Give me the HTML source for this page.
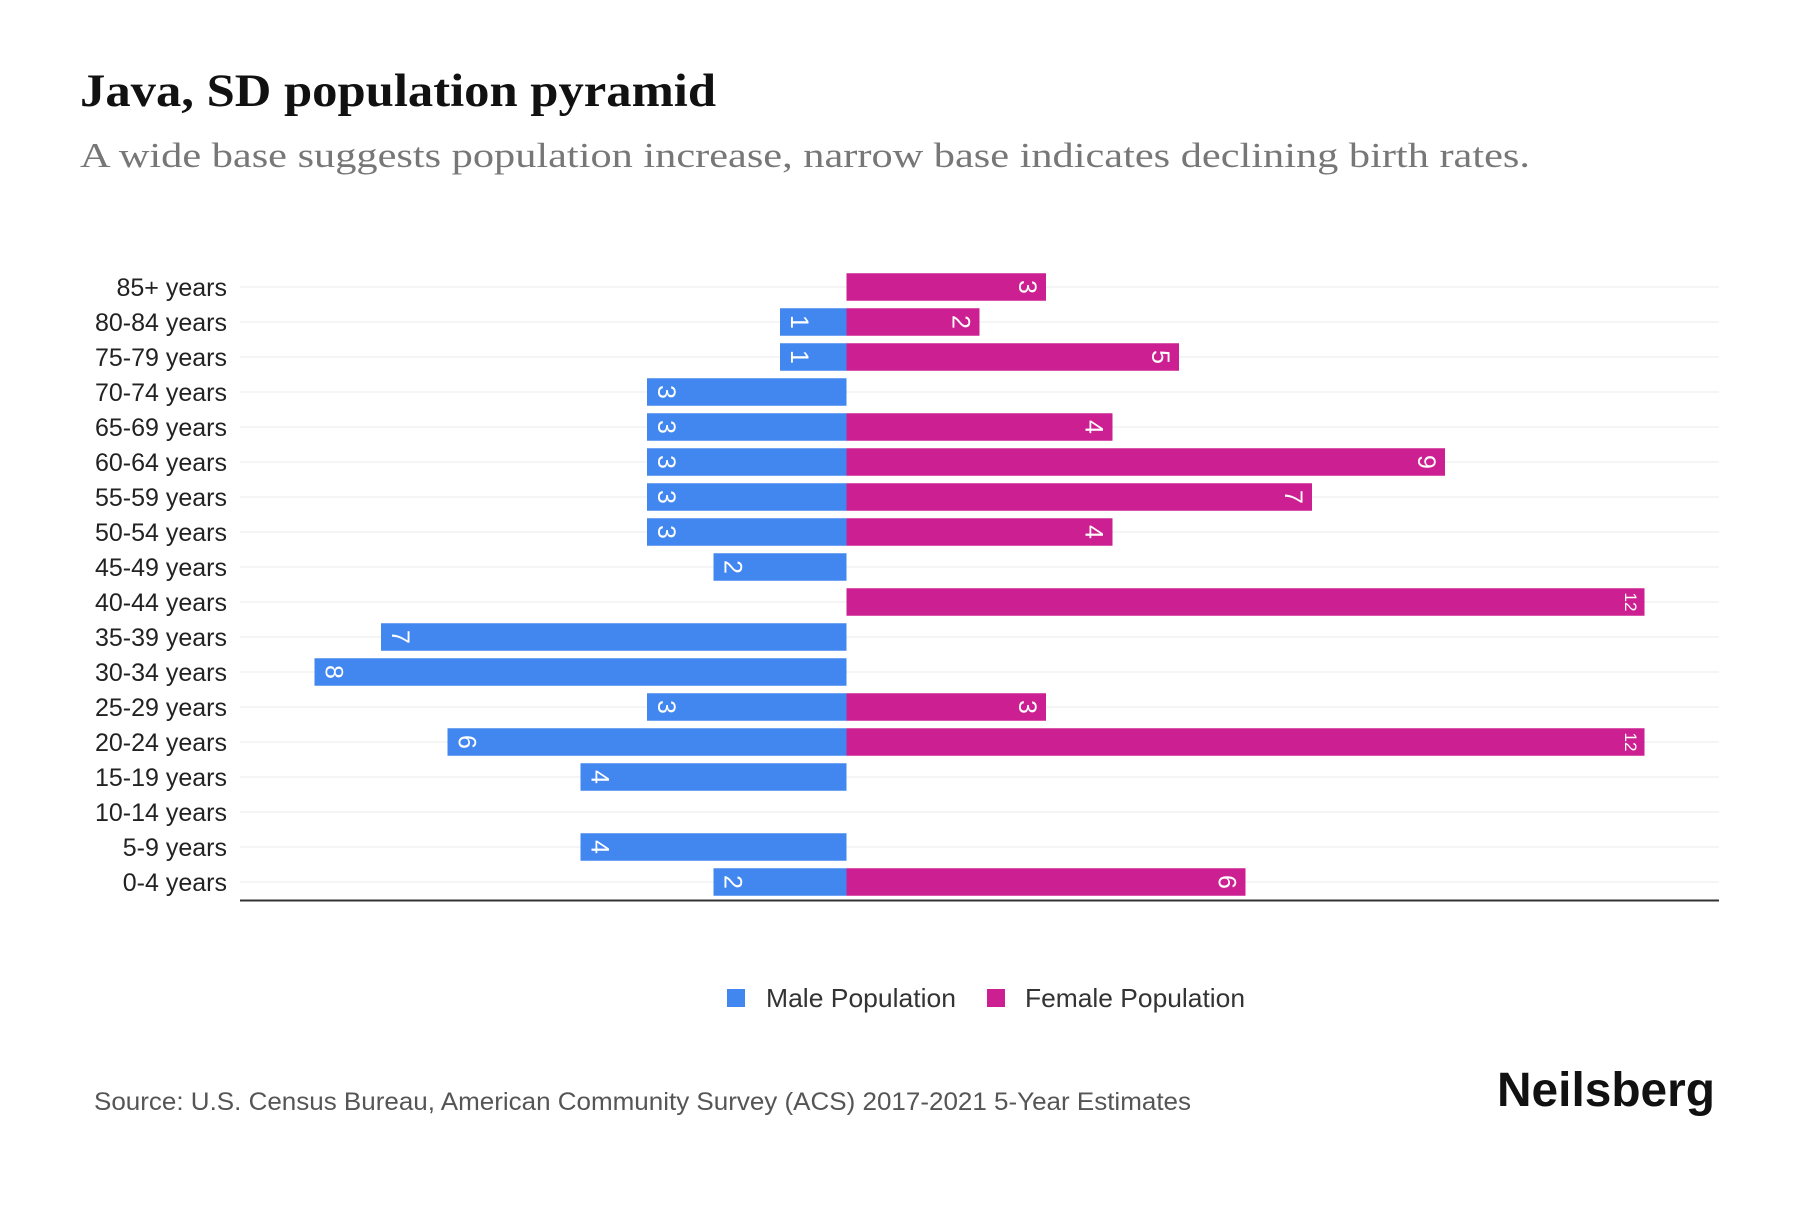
<!DOCTYPE html>
<html><head><meta charset="utf-8"><style>
body{margin:0;background:#fff;width:1800px;height:1200px;overflow:hidden;font-family:"Liberation Sans",sans-serif}
</style></head><body>
<svg id="chart" width="1800" height="1200">
<text x="80" y="106" font-family="Liberation Serif, serif" font-weight="bold" font-size="47" fill="#111" textLength="636" lengthAdjust="spacingAndGlyphs">Java, SD population pyramid</text>
<text x="80" y="167" font-family="Liberation Serif, serif" font-size="35" fill="#777" textLength="1450" lengthAdjust="spacingAndGlyphs">A wide base suggests population increase, narrow base indicates declining birth rates.</text>
<g id="grid"></g><g id="bars"></g><g id="labels"></g>
<line x1="240" x2="1719" y1="900.5" y2="900.5" stroke="#333" stroke-width="2"/>
<rect x="727" y="989" width="18" height="18" fill="#4287f0"/>
<text x="766" y="1007" font-size="26" fill="#333" textLength="190" lengthAdjust="spacingAndGlyphs">Male Population</text>
<rect x="987" y="989" width="18" height="18" fill="#cc1f91"/>
<text x="1025" y="1007" font-size="26" fill="#333" textLength="220" lengthAdjust="spacingAndGlyphs">Female Population</text>
<text x="94" y="1110" font-size="25" fill="#555" textLength="1097" lengthAdjust="spacingAndGlyphs">Source: U.S. Census Bureau, American Community Survey (ACS) 2017-2021 5-Year Estimates</text>
<text x="1497" y="1106" font-size="48" font-weight="bold" fill="#111" textLength="218" lengthAdjust="spacingAndGlyphs">Neilsberg</text>
</svg>
<script>
const categories=["85+ years","80-84 years","75-79 years","70-74 years","65-69 years","60-64 years","55-59 years","50-54 years","45-49 years","40-44 years","35-39 years","30-34 years","25-29 years","20-24 years","15-19 years","10-14 years","5-9 years","0-4 years"];
const maleValues=[0,1,1,3,3,3,3,3,2,0,7,8,3,6,4,0,4,2];
const femaleValues=[3,2,5,0,4,9,7,4,0,12,0,0,3,12,0,0,0,6];
const NS="http://www.w3.org/2000/svg";
const cx=846.5,unit=66.5,y0=287,step=35,bh=27.5;
const xs=v=>v*unit, ys=i=>y0+i*step;
function mk(t,a,p){const e=document.createElementNS(NS,t);for(const k in a)e.setAttribute(k,a[k]);document.getElementById(p).appendChild(e);return e;}
categories.forEach((c,i)=>{
  const y=ys(i);
  const g=mk('line',{x1:240,x2:1719,y1:y,y2:y,stroke:'#ebebeb','stroke-width':1},'grid');
  
  
  const t=mk('text',{x:227,y:y+9,'text-anchor':'end','font-size':25,fill:'#222'},'labels');
  t.textContent=c;
  
  
  [[maleValues[i],-1,'#4287f0','male'],[femaleValues[i],1,'#cc1f91','female']].forEach(([v,s,col,n])=>{
    if(!v)return;
    const w=xs(v);
    const r=mk('rect',{x:s<0?cx-w:cx,y:y-bh/2,width:w,height:bh,fill:col},'bars');
    
    
    const lx=cx+s*(w-(v>=10?14:19));
    const tl=mk('text',{x:lx,y:y,'text-anchor':'middle','dominant-baseline':'central','font-size':v>=10?17:25,fill:'#fff',transform:`rotate(90 ${lx} ${y})`},'bars');
    tl.textContent=v;
    
    
  });
});
</script>
</body></html>
